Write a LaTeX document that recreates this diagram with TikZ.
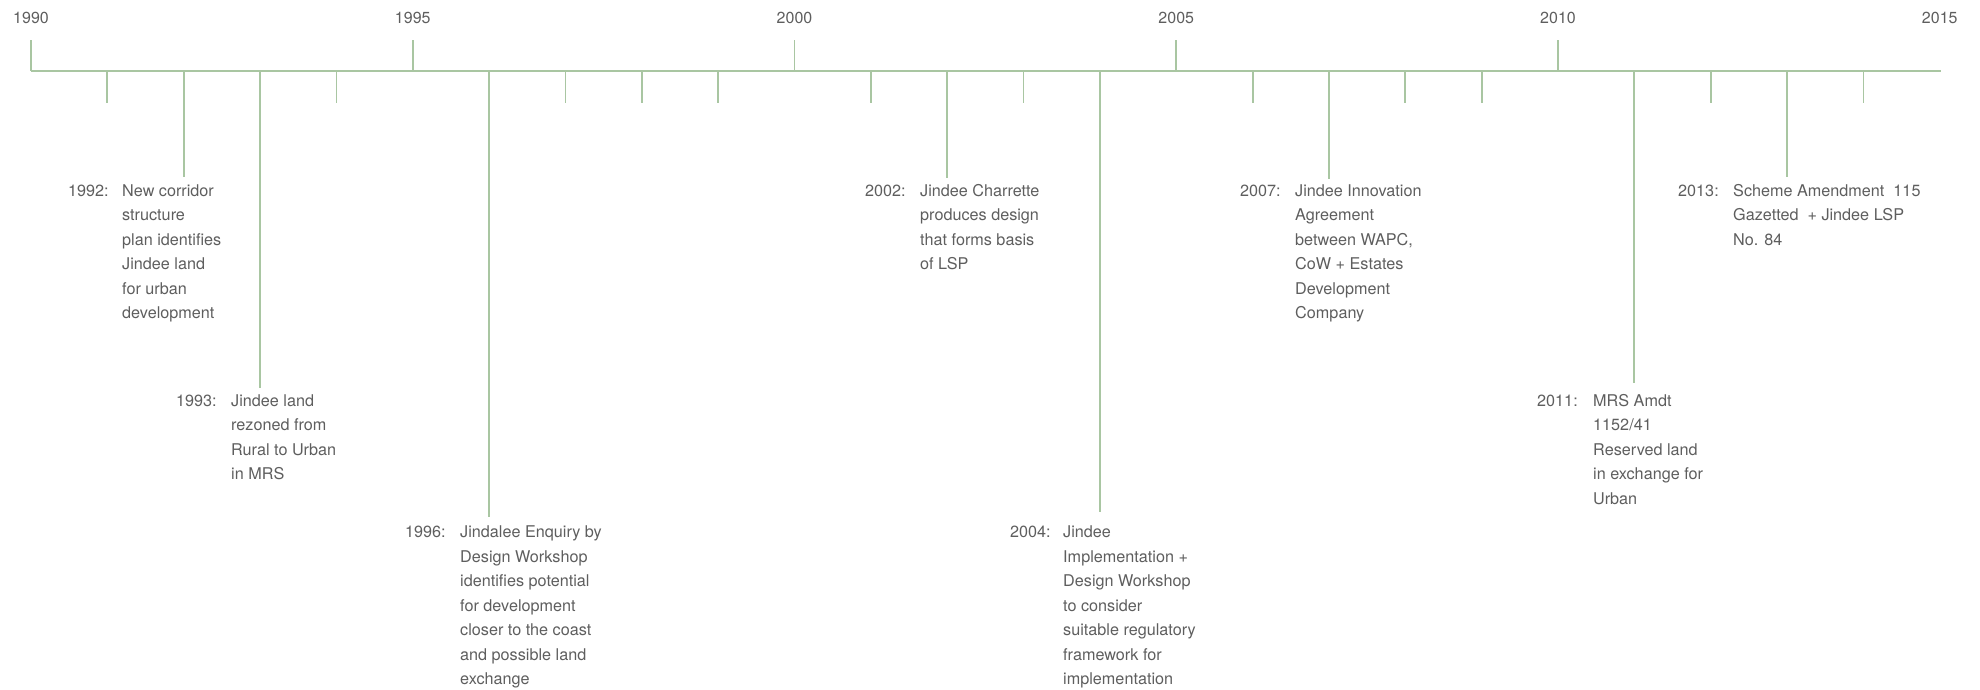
\documentclass[tikz,border=0pt]{standalone}
\usepackage{fontspec}
\setmainfont{TeX Gyre Heros}
\definecolor{tlgreen}{HTML}{A9C6A2}
\definecolor{tltext}{HTML}{5E5E5E}
\newcommand{\fl}{\rule{0pt}{12pt}}
\tikzset{
  axisline/.style={draw=tlgreen, line width=1.8pt},
  ticksty/.style={draw=tlgreen, line width=1.8pt},
  yearlbl/.style={text=tltext, inner sep=0pt, font=\fontsize{16}{20}\selectfont, anchor=base},
  evyear/.style={text=tltext, inner sep=0pt, font=\fontsize{16.2}{24.5}\selectfont, anchor=base west},
  evbody/.style={text=tltext, inner sep=0pt, font=\fontsize{16.2}{24.5}\selectfont, anchor=north west, align=left},
}
\begin{document}
\begin{tikzpicture}[x=1pt,y=-1pt]
\useasboundingbox (0,0) rectangle (1980,690);
% axis
\coordinate (axL) at (31,71);
\coordinate (axR) at (1941,71);
\draw[axisline] (axL) -- (axR);
% year labels
\foreach \yr/\nm in {0/y1990,5/y1995,10/y2000,15/y2005,20/y2010,25/y2015}{
  \pgfmathsetmacro{\xx}{31+\yr*76.35}
  \node[yearlbl] (\nm) at (\xx,24) {\pgfmathtruncatemacro{\yy}{1990+\yr}\yy};
}
% major (upward) ticks
\foreach \yr in {0,5,10,15,20}{
  \pgfmathsetmacro{\xx}{31+\yr*76.35}
  \coordinate (up\yr) at (\xx,40);
  \coordinate (ax\yr) at (\xx,71);
  \draw[ticksty] (ax\yr) -- (up\yr);
}
% minor (downward) ticks
\foreach \yr in {1,4,7,8,9,11,13,16,18,19,22,24}{
  \pgfmathsetmacro{\xx}{31+\yr*76.35}
  \coordinate (mt\yr) at (\xx,71);
  \coordinate (me\yr) at (\xx,103);
  \draw[ticksty] (mt\yr) -- (me\yr);
}
% event ticks: offset/name/tickend
\foreach \yr/\nm/\te in {2/e1992/177,3/e1993/388,6/e1996/517,12/e2002/178,14/e2004/512,17/e2007/179,21/e2011/383,23/e2013/177}{
  \pgfmathsetmacro{\xx}{31+\yr*76.35}
  \coordinate (\nm top) at (\xx,71);
  \coordinate (\nm end) at (\xx,\te);
  \draw[ticksty] (\nm top) -- (\nm end);
}
% event texts (body: top = baseline - 12)
\node[evyear] (t1992) at (68,196) {1992:};
\node[evbody] (b1992) at (122,184) {\fl New corridor\\structure\\plan identifies\\Jindee land\\for urban\\development};
\node[evyear] (t1993) at (176,406) {1993:};
\node[evbody] (b1993) at (231,394) {\fl Jindee land\\rezoned from\\Rural to Urban\\in MRS};
\node[evyear] (t1996) at (405,537.5) {1996:};
\node[evbody] (b1996) at (460,525.5) {\fl Jindalee Enquiry by\\Design Workshop\\identifies potential\\for development\\closer to the coast\\and possible land\\exchange};
\node[evyear] (t2002) at (865,196) {2002:};
\node[evbody] (b2002) at (920,184) {\fl Jindee Charrette\\produces design\\that forms basis\\of LSP};
\node[evyear] (t2004) at (1010,537.5) {2004:};
\node[evbody] (b2004) at (1063,525.5) {\fl Jindee\\Implementation +\\Design Workshop\\to consider\\suitable regulatory\\framework for\\implementation};
\node[evyear] (t2007) at (1240,196) {2007:};
\node[evbody] (b2007) at (1295,184) {\fl Jindee Innovation\\Agreement\\between WAPC,\\CoW + Estates\\Development\\Company};
\node[evyear] (t2011) at (1537,406) {2011:};
\node[evbody] (b2011) at (1593,394) {\fl MRS Amdt\\1152/41\\Reserved land\\in exchange for\\Urban};
\node[evyear] (t2013) at (1678,196) {2013:};
\node[evbody] (b2013) at (1733,184) {\fl Scheme Amendment~~115\\Gazetted~~+ Jindee LSP\\No. 84};
\end{tikzpicture}
\end{document}
